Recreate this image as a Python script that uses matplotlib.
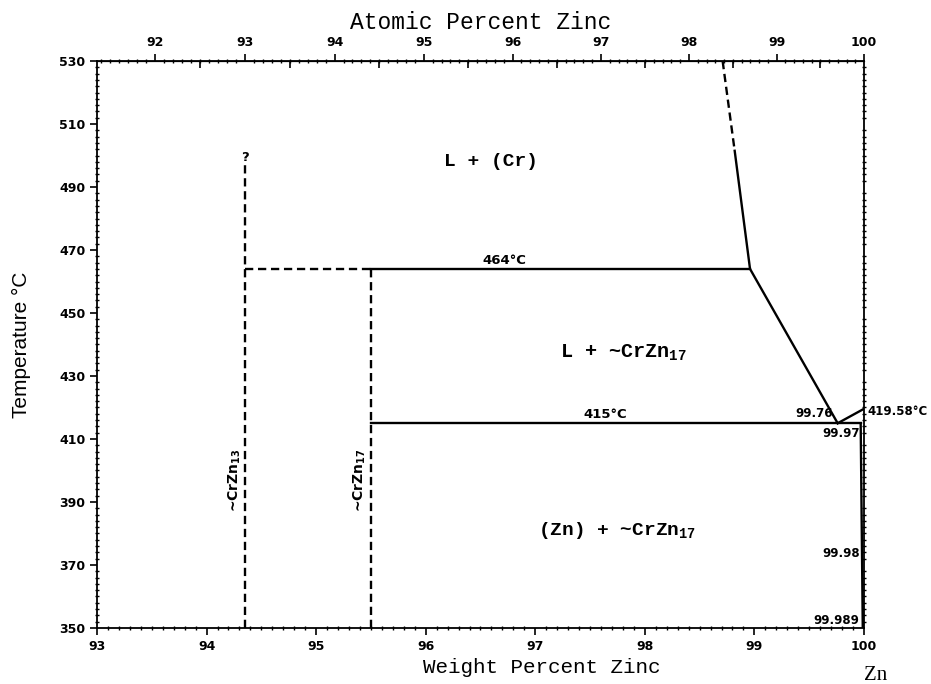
import numpy as np
import matplotlib
matplotlib.use("Agg")
import matplotlib.pyplot as plt
from matplotlib.ticker import MultipleLocator, FixedLocator

plt.rcParams["mathtext.default"] = "regular"

# Phase boundary data (weight % Zn, temperature C)
liq_dash_x = [98.71, 98.82]
liq_dash_y = [530, 501.5]
liq_x = [98.82, 98.96, 99.76]
liq_y = [501.5, 464, 415]
zn_liq_x = [99.76, 100.0]
zn_liq_y = [415, 419.58]
solvus_x = [99.97, 99.989]
solvus_y = [415, 350]

per_dash_x = [94.35, 95.5]
per_x = [95.5, 98.96]
per_t = 464
eut_x = [95.5, 99.97]
eut_t = 415

crzn13_x = 94.35
crzn13_y = [350, 497]
crzn17_x = 95.5
crzn17_y = [350, 464]

temp_ticks = [350, 370, 390, 410, 430, 450, 470, 490, 510, 530]
at_ticks = [92, 93, 94, 95, 96, 97, 98, 99, 100]
at_half = [92.5, 93.5, 94.5, 95.5, 96.5, 97.5, 98.5, 99.5]

M_ZN, M_CR = 65.38, 52.00


def wt_to_at(w):
    w = np.asarray(w, dtype=float)
    a = w / M_ZN
    b = (100 - w) / M_CR
    return 100 * a / (a + b)


def at_to_wt(x):
    x = np.asarray(x, dtype=float)
    a = x * M_ZN
    b = (100 - x) * M_CR
    return 100 * a / (a + b)


fig = plt.figure(figsize=(9.31, 6.84), dpi=100)
ax = fig.add_axes([0.1042, 0.0819, 0.8238, 0.8289])
ax.set_xlim(93, 100)
ax.set_ylim(350, 530)

lw = 1.7
dash = (0, (3.5, 2))
ax.plot(liq_dash_x, liq_dash_y, color="black", lw=lw, ls=dash)
ax.plot(liq_x, liq_y, color="black", lw=lw)
ax.plot(zn_liq_x, zn_liq_y, color="black", lw=lw)
ax.plot(solvus_x, solvus_y, color="black", lw=lw)
ax.plot(per_dash_x, [per_t, per_t], color="black", lw=lw, ls=dash)
ax.plot(per_x, [per_t, per_t], color="black", lw=lw)
ax.plot(eut_x, [eut_t, eut_t], color="black", lw=lw)
ax.plot([crzn13_x, crzn13_x], crzn13_y, color="black", lw=lw, ls=dash)
ax.plot([crzn17_x, crzn17_x], crzn17_y, color="black", lw=lw, ls=dash)

# labels
mono = "Liberation Mono"
serif = "Liberation Serif"
ax.text(96.6, 498, "L + (Cr)", fontsize=14, fontweight="bold", family=mono,
        ha="center", va="center")
ax.text(97.8, 437.5, "L + ~CrZn$_{17}$", fontsize=14.5, fontweight="bold",
        family=mono, ha="center", va="center")
ax.text(97.75, 381, "(Zn) + ~CrZn$_{17}$", fontsize=14, fontweight="bold",
        family=mono, ha="center", va="center")
ax.text(96.72, 464.7, "464°C", fontsize=9.5, fontweight="bold", ha="center", va="bottom")
ax.text(97.64, 415.7, "415°C", fontsize=9.5, fontweight="bold", ha="center", va="bottom")
ax.text(94.35, 499.5, "?", fontsize=9.5, fontweight="bold", ha="center", va="center")
ax.text(94.26, 397, "~CrZn$_{13}$", fontsize=10, fontweight="bold",
        rotation=90, ha="center", va="center")
ax.text(95.40, 397, "~CrZn$_{17}$", fontsize=10, fontweight="bold",
        rotation=90, ha="center", va="center")
ax.text(99.72, 416.0, "99.76", fontsize=8.5, fontweight="bold", ha="right", va="bottom")
ax.text(99.96, 413.8, "99.97", fontsize=8.5, fontweight="bold", ha="right", va="top")
ax.text(100.03, 418.8, "419.58°C", fontsize=8.5, fontweight="bold", ha="left",
        va="center", clip_on=False)
ax.text(99.96, 373.5, "99.98", fontsize=8.5, fontweight="bold", ha="right", va="center")
ax.text(99.96, 352.5, "99.989", fontsize=8.5, fontweight="bold", ha="right", va="center")
ax.text(100.11, 334.8, "Zn", fontsize=15, family=serif, ha="center", va="center",
        clip_on=False)

# bottom / left axes
ax.xaxis.set_major_locator(MultipleLocator(1))
ax.xaxis.set_minor_locator(MultipleLocator(0.1))
ax.yaxis.set_major_locator(FixedLocator(temp_ticks))
ax.yaxis.set_minor_locator(MultipleLocator(2))
ax.tick_params(axis="both", which="major", direction="out", length=5, width=1.2,
               labelsize=9)
ax.tick_params(axis="both", which="minor", direction="inout", length=3, width=1.0)
ax.tick_params(axis="y", which="both", right=True)
ax.tick_params(axis="y", which="major", right=False)
for lab in ax.get_xticklabels() + ax.get_yticklabels():
    lab.set_fontweight("bold")
ax.set_xlabel("Weight Percent Zinc", fontsize=15, family=mono)
ax.xaxis.set_label_coords(0.58, -0.069, transform=ax.transAxes)
ax.xaxis.label.set_va("center")
ax.set_ylabel("Temperature °C", fontsize=15, family="Liberation Sans")
ax.yaxis.set_label_coords(-0.086, 0.5, transform=ax.transAxes)
for s in ax.spines.values():
    s.set_linewidth(1.3)

# top axis in atomic percent
top = ax.secondary_xaxis("top", functions=(wt_to_at, at_to_wt))
top.xaxis.set_major_locator(FixedLocator(at_ticks))
top.xaxis.set_minor_locator(MultipleLocator(0.1))
top.tick_params(which="major", direction="out", length=5, width=1.2, labelsize=9)
top.tick_params(which="minor", direction="inout", length=3, width=1.0)
for lab in top.get_xticklabels():
    lab.set_fontweight("bold")
top.set_xlabel("Atomic Percent Zinc", fontsize=16.5, family=mono, labelpad=5)

top2 = ax.secondary_xaxis("top", functions=(wt_to_at, at_to_wt))
top2.xaxis.set_major_locator(FixedLocator(at_half))
top2.tick_params(which="major", direction="in", length=5, width=1.2, labeltop=False)
top2.xaxis.set_minor_locator(FixedLocator([]))

fig.savefig("out.png", dpi=100)
